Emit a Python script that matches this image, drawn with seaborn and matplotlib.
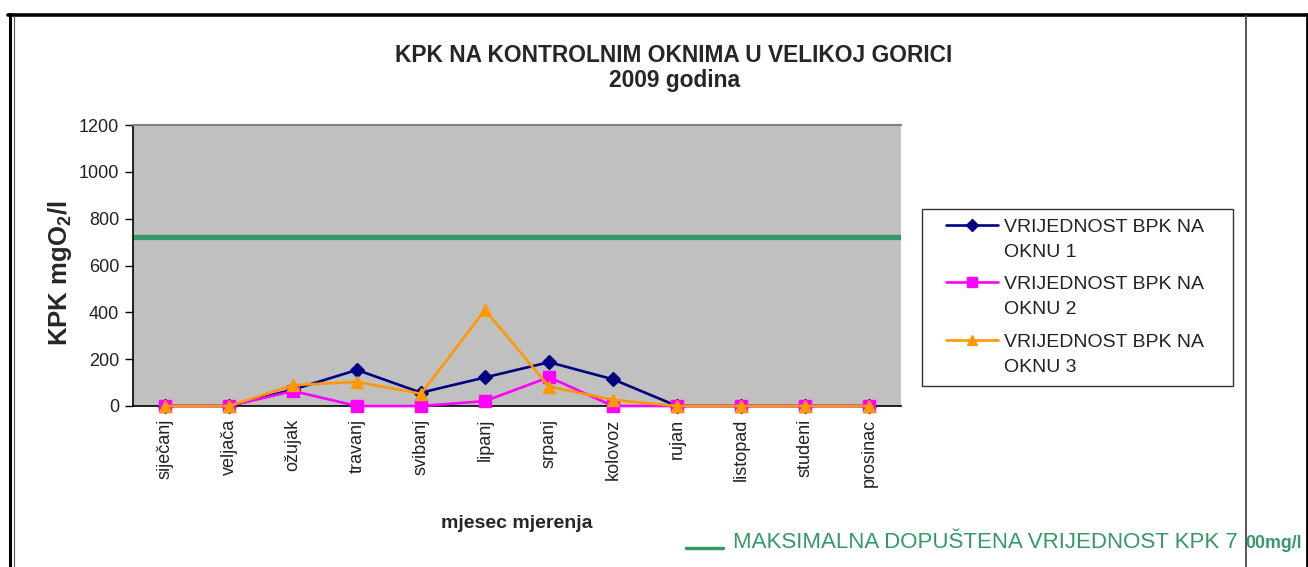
import numpy as np
import pandas as pd
import matplotlib.pyplot as plt
import seaborn as sns
from matplotlib.lines import Line2D
from matplotlib.legend_handler import HandlerLine2D

# ---------------- podaci ----------------
months = ['siječanj', 'veljača', 'ožujak', 'travanj', 'svibanj', 'lipanj',
          'srpanj', 'kolovoz', 'rujan', 'listopad', 'studeni', 'prosinac']
okno1 = [0, 0, 70, 154, 57, 122, 187, 114, 0, 0, 0, 0]
okno2 = [0, 0, 64, 0, 0, 21, 123, 0, 0, 0, 0, 0]
okno3 = [0, 0, 89, 103, 52, 410, 83, 26, 0, 0, 0, 0]
max_kpk = 720
series_names = ['VRIJEDNOST BPK NA\nOKNU 1',
                'VRIJEDNOST BPK NA\nOKNU 2',
                'VRIJEDNOST BPK NA\nOKNU 3']
yticks = [0, 200, 400, 600, 800, 1000, 1200]

W, H = 1308, 567

sns.set_style("white")
plt.rcParams['font.family'] = ['Liberation Sans', 'DejaVu Sans']
plt.rcParams['mathtext.fontset'] = 'custom'
plt.rcParams['mathtext.rm'] = 'Liberation Sans'
plt.rcParams['mathtext.bf'] = 'Liberation Sans:bold'

fig = plt.figure(figsize=(W / 100, H / 100), dpi=100)
fig.patch.set_facecolor('white')


def fx(px):
    return px / W


def fy(py):
    return 1 - py / H


# handle legende poravnat s prvim redom teksta, s malim odmakom lijevo
class FirstLineHandler(HandlerLine2D):
    def __init__(self, up=10.5, left=10, **kw):
        super().__init__(**kw)
        self.up = up
        self.left = left

    def create_artists(self, legend, orig_handle, xdescent, ydescent,
                       width, height, fontsize, trans):
        return super().create_artists(legend, orig_handle,
                                      xdescent - self.left, ydescent - 2 * self.up,
                                      width - self.left, height, fontsize, trans)


ax = fig.add_axes([fx(133), fy(406), fx(901) - fx(133), fy(125) - fy(406)])
ax.set_facecolor('#c0c0c0')

# ---------------- linije ----------------
ax.axhline(max_kpk, color='#339966', lw=3.8, zorder=1)

styles = [('#000080', 'D', 7), ('#ff00ff', 's', 8), ('#ff9900', '^', 9)]
x_idx = np.arange(len(months))
for vals, name, (col, mk, ms) in zip([okno1, okno2, okno3], series_names, styles):
    df = pd.DataFrame({'x': x_idx, 'y': vals})
    sns.lineplot(data=df, x='x', y='y', ax=ax, color=col, marker=mk,
                 markersize=ms, markeredgecolor=col, markeredgewidth=1,
                 linewidth=1.9, label=name, zorder=3, clip_on=False)

ax.set_xlim(-0.5, len(months) - 0.5)
ax.set_ylim(0, 1200)
ax.set_yticks(yticks)
ax.set_yticklabels([str(v) for v in yticks], fontsize=13, color='#222222')
ax.set_xticks(np.arange(-0.5, len(months) + 0.5, 1))
ax.set_xticklabels([])
ax.set_xticks(x_idx, minor=True)
ax.set_xticklabels(months, minor=True, rotation=90, fontsize=13, color='#222222')
ax.tick_params(axis='x', which='major', direction='out', length=6, width=1, color='black')
ax.tick_params(axis='x', which='minor', length=0, pad=9)
ax.tick_params(axis='y', direction='out', length=6, width=1, color='black', pad=4, left=True)

for s in ['left', 'bottom']:
    ax.spines[s].set_color('black')
    ax.spines[s].set_linewidth(1.2)
ax.spines['top'].set_color('#808080')
ax.spines['top'].set_linewidth(1.5)
ax.spines['right'].set_visible(False)

ax.set_xlabel('')
ax.set_ylabel('')

fig.text(fx(60), fy(273), r'KPK mgO$\mathbf{_2}$/l', rotation=90, fontsize=18.5,
         fontweight='bold', ha='center', va='center')
fig.text(fx(517), fy(523), 'mjesec mjerenja', fontsize=14, fontweight='bold',
         ha='center', va='center')

fig.text(fx(674), fy(55), 'KPK NA KONTROLNIM OKNIMA U VELIKOJ GORICI', fontsize=16.4,
         fontweight='bold', ha='center', va='center')
fig.text(fx(675), fy(80), '2009 godina', fontsize=16.4, fontweight='bold',
         ha='center', va='center')

leg = ax.legend(loc='upper left',
                bbox_to_anchor=(fx(922), fy(390), fx(1233) - fx(922), fy(209) - fy(390)),
                bbox_transform=fig.transFigure, mode='expand', fontsize=14,
                frameon=True, fancybox=False, shadow=False, handlelength=3.4,
                handletextpad=0.3, labelspacing=0.8, borderpad=0.5,
                borderaxespad=0, markerscale=0.85,
                handler_map={Line2D: FirstLineHandler()})
leg.get_frame().set_edgecolor('black')
leg.get_frame().set_linewidth(1)
leg.get_frame().set_facecolor('white')
for t in leg.get_texts():
    t.set_color('#222222')
    t.set_linespacing(1.62)

# ---------------- donji tekst ----------------
fig.add_artist(Line2D([fx(686), fx(723)], [fy(548), fy(548)], color='#339966', lw=2.5))
fig.text(fx(733), fy(548), 'MAKSIMALNA DOPUŠTENA VRIJEDNOST KPK 7', fontsize=16,
         color='#339966', ha='left', va='baseline')
fig.text(fx(1245), fy(548), '00mg/l', fontsize=12.8, fontweight='bold',
         color='#339966', ha='left', va='baseline')

# ---------------- okvir ----------------
fig.add_artist(Line2D([fx(8), fx(1308)], [fy(14.5), fy(14.5)], color='black', lw=2.6))
fig.add_artist(Line2D([fx(9.5), fx(9.5)], [fy(14), fy(567)], color='black', lw=2.2))
fig.add_artist(Line2D([fx(13.5), fx(13.5)], [fy(16), fy(567)], color='#555555', lw=0.8))
fig.add_artist(Line2D([fx(1246), fx(1246)], [fy(16), fy(567)], color='#555555', lw=1.4))
fig.add_artist(Line2D([fx(1306.5), fx(1306.5)], [fy(14), fy(567)], color='black', lw=2))

fig.savefig('out.png', dpi=100)
